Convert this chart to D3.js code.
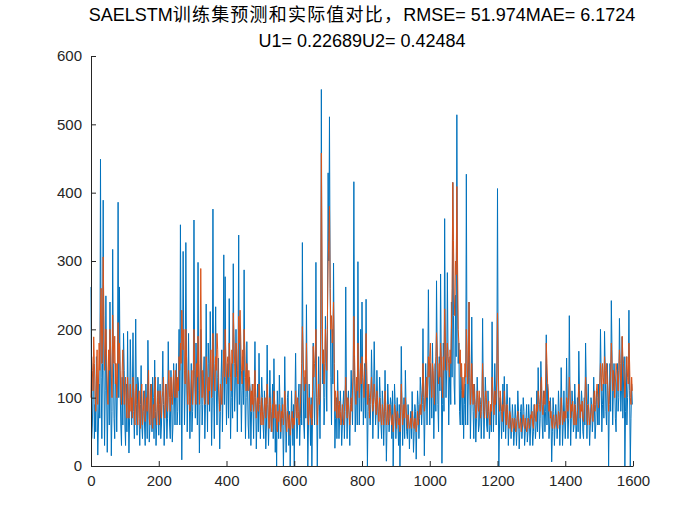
<!DOCTYPE html>
<html>
<head>
<meta charset="utf-8">
<script src="https://cdn.jsdelivr.net/npm/d3@7"></script>
<style>
  body { margin: 0; background: #fff; }
  svg { display: block; }
</style>
</head>
<body>
<svg id="chart" width="700" height="525"></svg>
<script>
// ---- data (one sample every 2 steps) ----
const sampleStep = 2;
const titleLatinA = "SAELSTM";
const titleCJK = "训练集预测和实际值对比，";
const titleLatinB = "RMSE= 51.974MAE= 6.1724";
const titleLine2 = "U1= 0.22689U2= 0.42484";
const xTicks = [0, 200, 400, 600, 800, 1000, 1200, 1400, 1600];
const yTicks = [0, 100, 200, 300, 400, 500, 600];

const actualValues = [
  262,40,60,110,150,40,90,50,160,90,16,60,120,70,449,130,40,150,389,140,30,110,249,120,20,90,140,60,240,120,15,80,317,150,70,40,150,110,50,120,386,100,262,120,60,30,130,60,194,140,
  60,30,120,50,197,90,19,70,185,120,60,100,195,80,40,110,215,90,45,130,120,70,30,90,147,60,40,80,110,60,30,120,90,40,184,110,35,60,120,100,50,130,100,40,155,80,30,60,100,130,
  45,90,120,40,60,110,168,90,30,70,120,100,40,70,182,110,60,40,140,100,35,60,150,110,60,120,150,60,80,130,200,60,353,150,9,120,314,170,60,120,327,160,50,110,194,100,40,90,150,50,
  80,120,360,140,70,180,130,60,298,110,19,90,200,140,60,90,130,160,40,90,237,120,50,180,150,80,226,130,30,100,376,120,40,150,233,110,60,130,158,90,25,80,130,170,50,120,309,90,277,130,
  60,120,150,70,245,130,40,100,150,70,296,150,80,120,200,130,50,140,338,90,200,120,50,110,160,90,287,130,40,100,182,120,60,40,130,100,30,80,120,90,40,110,182,100,25,70,120,50,165,90,
  40,90,130,100,60,40,110,80,25,60,177,90,30,70,140,90,50,80,120,40,157,90,20,70,0,110,80,40,133,90,40,60,100,70,0,60,160,80,20,60,100,110,30,80,0,50,110,70,30,90,
  0,90,165,80,40,60,100,120,30,70,120,60,327,140,60,40,130,70,236,110,0,60,120,90,30,100,0,70,180,110,60,120,298,100,0,80,160,100,40,130,551,200,120,170,60,100,219,150,80,200,
  429,300,511,260,130,60,200,120,297,150,26,70,100,40,140,90,40,70,110,80,30,60,90,110,40,80,262,110,40,90,110,70,30,90,140,100,60,130,416,140,50,90,120,60,299,130,60,110,200,80,
  240,130,60,100,150,70,244,110,0,80,120,100,60,90,170,120,40,90,182,120,60,80,140,100,40,70,130,100,60,40,110,90,30,70,140,80,7,60,120,90,50,70,100,90,40,110,0,60,120,90,
  40,70,100,60,30,90,0,60,175,90,30,70,100,40,140,90,50,40,90,70,25,60,80,40,109,70,20,50,90,80,10,60,110,90,40,70,130,110,60,90,201,100,15,80,150,110,60,120,258,140,
  60,150,120,70,180,120,40,100,150,80,271,160,90,50,160,110,281,150,4,90,180,80,362,170,100,140,283,160,60,120,160,90,240,130,415,220,120,90,250,160,514,240,150,180,80,60,150,110,60,110,
  40,90,120,60,427,150,60,120,240,130,40,90,218,120,80,40,120,90,35,70,130,100,50,60,100,90,40,80,216,110,40,80,130,100,60,50,110,80,40,60,90,50,211,110,50,90,150,110,60,120,
  406,130,0,60,100,80,40,70,120,50,131,90,40,70,120,90,30,60,100,70,40,60,90,70,30,50,90,70,30,60,110,80,25,50,80,90,40,60,100,80,30,50,70,90,35,50,90,70,30,60,
  100,60,30,50,90,70,40,60,110,50,144,90,40,70,153,110,60,40,110,90,50,80,192,60,120,90,40,60,100,70,6,50,100,80,30,60,90,70,40,60,110,80,30,70,144,90,30,60,110,70,
  40,80,158,90,40,70,220,110,30,70,110,90,50,60,120,90,40,60,100,50,168,110,40,80,110,90,50,40,100,60,180,120,40,90,120,70,30,60,100,90,50,70,130,90,40,60,110,90,60,120,
  60,110,200,130,50,90,120,70,197,140,80,60,150,110,0,90,150,80,242,170,60,110,150,120,70,50,120,150,80,100,216,150,80,110,189,70,120,160,0,80,160,60,100,130,228,110,0,70,120,90
];

const predictedValues = [
  100,160,140,110,189,150,110,80,130,170,90,120,180,140,224,260,150,190,306,220,140,170,200,160,120,90,170,140,200,170,130,100,221,180,150,190,120,150,100,130,210,150,180,140,110,90,140,170,120,90,
  110,130,90,70,130,100,70,90,120,80,100,70,130,110,80,60,110,120,75,60,95,110,70,55,100,120,60,80,90,110,65,80,100,80,120,140,70,60,100,120,65,55,90,70,110,130,70,60,90,110,
  80,60,110,90,70,100,110,130,85,70,95,120,90,80,120,140,100,80,130,110,90,120,140,110,100,140,120,100,130,110,160,140,180,150,228,190,170,200,140,120,200,160,110,90,140,120,80,100,120,140,
  90,130,200,150,110,90,150,130,190,140,90,150,289,180,100,140,120,100,90,110,160,140,110,90,130,110,150,170,100,120,194,150,130,110,160,140,194,170,120,100,80,120,110,90,120,140,170,130,200,160,
  120,150,160,130,180,160,130,110,170,150,224,190,150,130,180,170,140,120,219,180,228,190,140,120,170,140,200,170,130,110,150,130,110,140,120,110,80,110,90,120,80,100,140,110,70,90,100,80,120,100,
  80,60,100,80,60,75,90,100,70,90,120,95,70,55,100,85,60,50,90,70,110,95,70,90,60,50,80,65,90,75,50,80,70,90,60,80,110,90,60,50,80,70,55,75,45,60,70,80,55,70,
  60,80,110,90,70,100,80,60,70,90,110,150,204,170,130,110,140,120,180,120,70,60,100,80,70,90,60,110,175,130,150,170,200,120,60,90,120,90,100,200,458,300,150,170,120,150,200,170,140,220,
  300,330,380,260,200,220,180,200,240,150,80,110,90,70,110,90,70,95,80,60,70,90,75,60,80,100,130,90,70,100,90,75,60,80,100,80,110,140,219,160,110,90,130,110,180,140,100,120,150,120,
  160,140,120,100,140,150,194,140,90,120,100,70,90,110,130,100,80,95,120,100,90,75,110,95,80,65,100,85,70,60,90,80,60,80,110,90,60,70,90,60,70,90,80,70,60,75,50,65,90,80,
  70,55,80,75,60,70,50,80,120,90,60,75,90,70,100,85,70,55,75,65,55,60,70,55,80,70,60,55,70,65,50,60,80,60,70,80,90,75,100,110,150,120,80,90,110,130,100,120,160,130,
  160,180,120,100,150,140,110,90,140,160,195,170,140,120,150,130,180,160,120,100,160,140,230,190,160,140,180,160,150,130,170,150,200,260,415,330,250,220,300,280,409,300,200,180,150,170,130,150,100,130,
  100,120,150,130,200,170,120,150,240,160,90,110,150,120,90,120,100,90,70,80,110,100,80,110,90,70,80,100,150,110,80,70,100,110,90,70,80,95,70,60,90,80,130,110,90,75,110,90,100,130,
  224,150,100,80,110,95,80,65,90,80,110,90,70,60,90,75,60,55,80,75,60,50,70,65,55,70,65,50,60,70,80,65,55,60,70,50,60,65,75,60,55,70,60,50,55,70,65,55,60,75,
  70,80,60,55,80,90,70,65,90,80,110,100,90,80,120,130,90,75,100,110,90,120,180,150,120,110,80,95,70,80,60,55,70,75,55,60,65,75,60,55,80,75,60,70,100,85,60,70,80,65,
  80,70,100,90,80,100,130,110,70,90,80,95,70,60,90,80,60,70,80,95,120,100,70,90,80,95,70,65,90,100,130,110,70,60,90,80,60,70,80,90,70,65,100,110,80,90,110,120,100,85,
  100,120,150,130,110,150,130,120,160,140,120,150,130,110,80,100,120,140,180,150,110,140,130,100,120,150,140,130,110,140,170,150,110,130,190,160,150,130,100,120,140,160,130,120,180,150,100,90,130,110
];

// ---- drawing ----
const svg = d3.select("#chart");
const plot = { left: 91, right: 633, top: 56, bottom: 466 };
const axisColor = "#262626";
const fontFamily = "'Liberation Sans', Arial, 'Noto Sans CJK SC', sans-serif";

const x = d3.scaleLinear().domain([0, 1600]).range([plot.left, plot.right]);
const y = d3.scaleLinear().domain([0, 600]).range([plot.bottom, plot.top]);

const line = d3.line()
  .x((d, i) => x(i * sampleStep))
  .y(d => y(d));

svg.append("path")
  .datum(actualValues)
  .attr("fill", "none")
  .attr("stroke", "#0072BD")
  .attr("stroke-width", 1)
  .attr("d", line);

svg.append("path")
  .datum(predictedValues)
  .attr("fill", "none")
  .attr("stroke", "#D95319")
  .attr("stroke-width", 1)
  .attr("d", line);

const xAxis = d3.axisBottom(x).tickValues(xTicks).tickFormat(d3.format("d"))
  .tickSizeInner(-5).tickSizeOuter(0).tickPadding(9);
const yAxis = d3.axisLeft(y).tickValues(yTicks).tickFormat(d3.format("d"))
  .tickSizeInner(-5).tickSizeOuter(0).tickPadding(9);

const gx = svg.append("g").attr("transform", `translate(0,${plot.bottom})`).call(xAxis);
const gy = svg.append("g").attr("transform", `translate(${plot.left},0)`).call(yAxis);

[gx, gy].forEach(g => {
  g.select(".domain").attr("stroke", axisColor).attr("stroke-width", 1);
  g.selectAll(".tick line").attr("stroke", axisColor).attr("stroke-width", 1);
  g.selectAll(".tick text")
    .attr("fill", axisColor)
    .style("font-family", fontFamily)
    .style("font-size", "15px");
});

const titleX = (plot.left + plot.right) / 2;
const t1 = svg.append("text")
  .attr("x", titleX).attr("y", 21)
  .attr("text-anchor", "middle")
  .style("font-family", fontFamily)
  .style("font-size", "18px")
  .attr("fill", "#000");
t1.append("tspan").text(titleLatinA);
t1.append("tspan").style("letter-spacing", "1.2px").text(titleCJK);
t1.append("tspan").text(titleLatinB);

svg.append("text")
  .attr("x", titleX).attr("y", 47)
  .attr("text-anchor", "middle")
  .style("font-family", fontFamily)
  .style("font-size", "18px")
  .attr("fill", "#000")
  .text(titleLine2);
</script>
</body>
</html>
